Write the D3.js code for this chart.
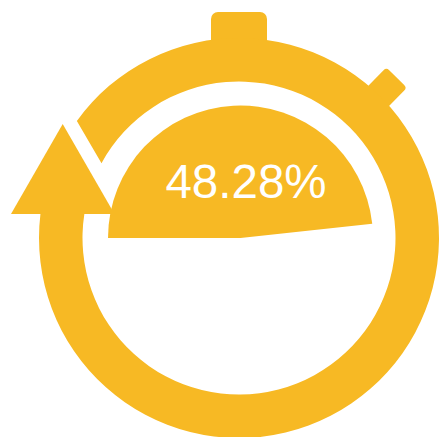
<!DOCTYPE html>
<html>
<head>
<meta charset="utf-8">
<script src="https://cdn.jsdelivr.net/npm/d3@7"></script>
<style>
  html, body { margin: 0; padding: 0; background: #fff; }
  svg { display: block; }
</style>
</head>
<body>
<svg id="gauge" width="439" height="437"></svg>
<script>
// Share of the dial that is filled, in percent
const percentValues = [48.28];
const percentLabels = ["48.28%"];

const gold = "#F7B924";
const svg = d3.select("#gauge");

// Dial geometry
const ringCx = 239, ringCy = 238, ringOuter = 200, ringInner = 156.5;
const wedgeCx = 240.5, wedgeR = 132.5;

// Percent runs clockwise from the nine o'clock position
const sweep = d3.scaleLinear().domain([0, 100]).range([-Math.PI / 2, Math.PI * 1.5]);

const dial = svg.append("g").attr("fill", gold);

// Crown button on top of the stopwatch
dial.append("rect")
  .attr("x", 211).attr("y", 12).attr("width", 56).attr("height", 50).attr("rx", 7);

// Side button, tilted about 45 degrees
dial.append("rect")
  .attr("x", -14.5).attr("y", -225).attr("width", 29).attr("height", 50).attr("rx", 4)
  .attr("transform", `translate(${ringCx},${ringCy}) rotate(44.5)`);

// Open ring: the gap is cut parallel to the arrow's right edge
const toCanvas = (x, y) => Math.atan2(y - ringCy, x - ringCx);
const yAtBase = 214;
const outerStart = toCanvas(77, 121);
const innerStart = toCanvas(101, 163);
const outerEnd = Math.PI + Math.asin((ringCy - yAtBase) / ringOuter);
const innerEnd = Math.PI + Math.asin((ringCy - yAtBase) / ringInner);

const ring = d3.path();
ring.arc(ringCx, ringCy, ringOuter, outerStart, outerEnd, false);
ring.arc(ringCx, ringCy, ringInner, innerEnd, innerStart, true);
ring.closePath();
dial.append("path").attr("d", ring.toString());

// Arrowhead closing the ring
const arrow = d3.path();
arrow.moveTo(62.7, 124);
arrow.lineTo(114.5, 214);
arrow.lineTo(11, 214);
arrow.closePath();
dial.append("path").attr("d", arrow.toString());

// Filled wedge showing the value
const wedge = d3.arc().innerRadius(0).outerRadius(wedgeR);
dial.selectAll("path.wedge")
  .data(percentValues)
  .join("path")
  .attr("class", "wedge")
  .attr("transform", `translate(${wedgeCx},${ringCy})`)
  .attr("d", d => wedge({ startAngle: sweep(0), endAngle: sweep(d) }));

// Value label
svg.selectAll("text.value")
  .data(percentLabels)
  .join("text")
  .attr("class", "value")
  .attr("x", 246).attr("y", 198)
  .attr("text-anchor", "middle")
  .attr("font-family", "'Liberation Sans', Arial, sans-serif")
  .attr("font-size", 47.5)
  .attr("fill", "#fff")
  .text(d => d);
</script>
</body>
</html>
